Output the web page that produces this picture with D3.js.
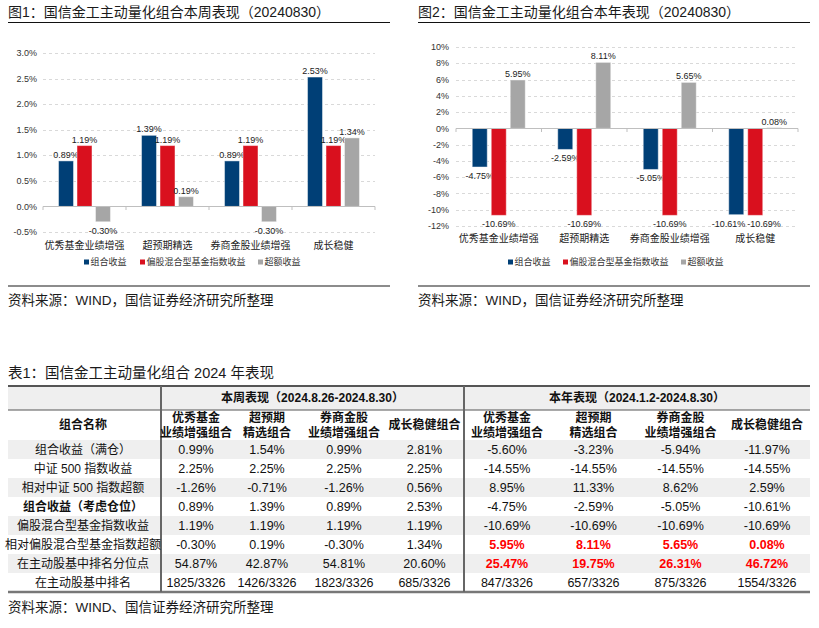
<!DOCTYPE html>
<html><head><meta charset="utf-8">
<script src="https://cdn.jsdelivr.net/npm/d3@7"></script>
<style>
body{margin:0;background:#fff;}
svg{display:block;font-family:"Liberation Sans","Noto Sans CJK SC",sans-serif;}
</style></head>
<body>
<svg id="c" width="819" height="628"></svg>
<script>
// ---------- data ----------
const categories = ["优秀基金业绩增强","超预期精选","券商金股业绩增强","成长稳健"];
const seriesNames = ["组合收益","偏股混合型基金指数收益","超额收益"];
const weekPortfolio = [0.89,1.39,0.89,2.53];
const weekIndex = [1.19,1.19,1.19,1.19];
const weekExcess = [-0.30,0.19,-0.30,1.34];
const yearPortfolio = [-4.75,-2.59,-5.05,-10.61];
const yearIndex = [-10.69,-10.69,-10.69,-10.69];
const yearExcess = [5.95,8.11,5.65,0.08];
const weekTicks = [-0.5,0,0.5,1.0,1.5,2.0,2.5,3.0];
const yearTicks = [-12,-10,-8,-6,-4,-2,0,2,4,6,8,10];

const tableTitle = "表1：国信金工主动量化组合 2024 年表现";
const groupHeaders = ["本周表现（2024.8.26-2024.8.30）","本年表现（2024.1.2-2024.8.30）"];
const colHeaders = [["优秀基金","业绩增强组合"],["超预期","精选组合"],["券商金股","业绩增强组合"],["成长稳健组合"]];
const rowLabels = ["组合收益（满仓）","中证 500 指数收益","相对中证 500 指数超额","组合收益（考虑仓位）","偏股混合型基金指数收益","相对偏股混合型基金指数超额","在主动股基中排名分位点","在主动股基中排名"];
const weekTable = [
  ["0.99%","1.54%","0.99%","2.81%"],
  ["2.25%","2.25%","2.25%","2.25%"],
  ["-1.26%","-0.71%","-1.26%","0.56%"],
  ["0.89%","1.39%","0.89%","2.53%"],
  ["1.19%","1.19%","1.19%","1.19%"],
  ["-0.30%","0.19%","-0.30%","1.34%"],
  ["54.87%","42.87%","54.81%","20.60%"],
  ["1825/3326","1426/3326","1823/3326","685/3326"]
];
const yearTable = [
  ["-5.60%","-3.23%","-5.94%","-11.97%"],
  ["-14.55%","-14.55%","-14.55%","-14.55%"],
  ["8.95%","11.33%","8.62%","2.59%"],
  ["-4.75%","-2.59%","-5.05%","-10.61%"],
  ["-10.69%","-10.69%","-10.69%","-10.69%"],
  ["5.95%","8.11%","5.65%","0.08%"],
  ["25.47%","19.75%","26.31%","46.72%"],
  ["847/3326","657/3326","875/3326","1554/3326"]
];
const boldRows = [3];
const redYearRows = [5,6];

// ---------- styles ----------
const colors = ["#003f76","#d9101e","#a6a6a6"];
const svg = d3.select("#c");

function drawChart(opt){
  const g = svg.append("g");
  g.append("text").attr("x",opt.x0).attr("y",17).attr("font-size",14).attr("fill","#1a1a1a").text(opt.title);
  g.append("line").attr("x1",opt.x0).attr("x2",opt.x1).attr("y1",22.5).attr("y2",22.5).attr("stroke","#111").attr("stroke-width",1.2);
  const y = d3.scaleLinear().domain(opt.domain).range(opt.yrange);
  const x = d3.scaleBand().domain(categories).range(opt.xrange);
  const x1 = d3.scaleBand().domain(seriesNames).range([0,x.bandwidth()]).paddingInner(opt.pi).paddingOuter(opt.po);
  g.selectAll(".grid").data(opt.ticks.filter(t=>t!==0)).join("line")
    .attr("x1",opt.xrange[0]).attr("x2",opt.xrange[1])
    .attr("y1",d=>Math.round(y(d))+0.5).attr("y2",d=>Math.round(y(d))+0.5)
    .attr("stroke","#d9d9d9").attr("stroke-dasharray","3,3");
  g.selectAll(".tl").data(opt.ticks).join("text")
    .attr("x",opt.tickX).attr("y",d=>y(d)).attr("dy","0.35em").attr("text-anchor","end")
    .attr("font-size",9).attr("fill","#333").text(opt.fmt);
  const series = opt.series;
  categories.forEach((c,i)=>{
    // detect colliding negative labels of first two series (both negative, nearly equal)
    const a = series[0][i], b = series[1][i];
    const clash = a<0 && b<0 && Math.abs(y(a)-y(b))<10;
    series.forEach((s,j)=>{
      const v = s[i];
      const bx = x(c)+x1(seriesNames[j]);
      g.append("rect").attr("x",bx).attr("width",x1.bandwidth())
        .attr("y",y(Math.max(0,v))).attr("height",Math.abs(y(v)-y(0)))
        .attr("fill",colors[j]).attr("stroke","#ffffff").attr("stroke-opacity",0.45).attr("stroke-width",1);
      let anchor="middle", lx=bx+x1.bandwidth()/2;
      if(clash && j===0){ anchor="end"; lx=bx+x1.bandwidth()/2+9; }
      if(clash && j===1){ anchor="start"; lx=bx+x1.bandwidth()/2-8; }
      g.append("text").attr("x",lx)
        .attr("y", v>=0 ? y(v)-3 : y(v)+opt.negOff)
        .attr("text-anchor",anchor).attr("font-size",9).attr("fill","#222")
        .text(v.toFixed(2)+"%");
    });
  });
  g.append("line").attr("x1",opt.xrange[0]).attr("x2",opt.xrange[1]).attr("y1",Math.round(y(0))+0.5).attr("y2",Math.round(y(0))+0.5).attr("stroke","#bfbfbf");
  const edges = categories.map(c=>x(c)).concat([opt.xrange[1]]);
  g.selectAll(".tk").data(edges).join("line").attr("x1",d=>d).attr("x2",d=>d)
    .attr("y1",Math.round(y(0))+0.5).attr("y2",Math.round(y(0))+4).attr("stroke","#bfbfbf");
  g.selectAll(".cl").data(categories).join("text")
    .attr("x",d=>x(d)+x.bandwidth()/2).attr("y",opt.catY).attr("dy","0.35em").attr("text-anchor","middle")
    .attr("font-size",10).attr("fill","#222").text(d=>d);
  seriesNames.forEach((s,j)=>{
    g.append("rect").attr("x",opt.legX[j]).attr("y",259.5).attr("width",5).attr("height",5).attr("fill",colors[j]);
    g.append("text").attr("x",opt.legX[j]+6.5).attr("y",262).attr("dy","0.35em").attr("font-size",9).attr("fill","#333").text(s);
  });
  g.append("line").attr("x1",opt.x0).attr("x2",opt.x1).attr("y1",286).attr("y2",286).attr("stroke","#8c8c8c").attr("stroke-width",2);
  g.append("text").attr("x",opt.x0).attr("y",300).attr("dy","0.35em").attr("font-size",13.5).attr("fill","#1a1a1a").text("资料来源：WIND，国信证券经济研究所整理");
}

drawChart({title:"图1：国信金工主动量化组合本周表现（20240830）",x0:8,x1:390,
  domain:[-0.5,3.0],yrange:[232,53],xrange:[43,375],pi:0.19,po:0.84,
  ticks:weekTicks,tickX:37,fmt:d=>d.toFixed(1)+"%",
  series:[weekPortfolio,weekIndex,weekExcess],negOff:12,
  catY:245,legX:[84,140,258]});
drawChart({title:"图2：国信金工主动量化组合本年表现（20240830）",x0:418,x1:810,
  domain:[-12,10],yrange:[226,47],xrange:[456,798],pi:0.21,po:0.855,
  ticks:yearTicks,tickX:449,fmt:d=>d+"%",
  series:[yearPortfolio,yearIndex,yearExcess],negOff:12,
  catY:238,legX:[508,563,681]});

// ---------- table ----------
const T = svg.append("g");
T.append("text").attr("x",8).attr("y",378).attr("font-size",14.5).attr("fill","#1a1a1a").text(tableTitle);
const tLeft=8,tRight=810,tTop=386,tH1=410,tH2=440,tBottom=592;
const colEdges=[161,231,303,385,464,550,637,724,810];
const rowH=(tBottom-tH2)/rowLabels.length;
T.append("rect").attr("x",tLeft).attr("y",tTop).attr("width",tRight-tLeft).attr("height",tH1-tTop).attr("fill","#efefef");
rowLabels.forEach((r,i)=>{
  if(i%2===0) T.append("rect").attr("x",tLeft).attr("y",tH2+i*rowH).attr("width",tRight-tLeft).attr("height",rowH).attr("fill","#efefef");
});
T.append("line").attr("x1",tLeft).attr("x2",tRight).attr("y1",tTop).attr("y2",tTop).attr("stroke","#555").attr("stroke-width",2);
T.append("line").attr("x1",tLeft).attr("x2",tRight).attr("y1",tH1).attr("y2",tH1).attr("stroke","#555").attr("stroke-width",1);
T.append("line").attr("x1",tLeft).attr("x2",tRight).attr("y1",tBottom).attr("y2",tBottom).attr("stroke","#777").attr("stroke-width",2.5);
[161,464].forEach(xv=>T.append("line").attr("x1",xv).attr("x2",xv).attr("y1",tTop).attr("y2",tBottom).attr("stroke","#666").attr("stroke-width",2));
T.append("text").attr("x",(161+464)/2).attr("y",(tTop+tH1)/2).attr("dy","0.35em").attr("text-anchor","middle").attr("font-size",12).attr("font-weight","bold").attr("fill","#111").text(groupHeaders[0]);
T.append("text").attr("x",(464+810)/2).attr("y",(tTop+tH1)/2).attr("dy","0.35em").attr("text-anchor","middle").attr("font-size",12).attr("font-weight","bold").attr("fill","#111").text(groupHeaders[1]);
T.append("text").attr("x",83).attr("y",(tH1+tH2)/2).attr("dy","0.35em").attr("text-anchor","middle").attr("font-size",12).attr("font-weight","bold").attr("fill","#111").text("组合名称");
for(let k=0;k<8;k++){
  const cx=(colEdges[k]+colEdges[k+1])/2;
  const hd=colHeaders[k%4];
  const t=T.append("text").attr("text-anchor","middle").attr("font-size",12).attr("font-weight","bold").attr("fill","#111");
  if(hd.length===1){ t.append("tspan").attr("x",cx).attr("y",(tH1+tH2)/2).attr("dy","0.35em").text(hd[0]); }
  else { t.append("tspan").attr("x",cx).attr("y",(tH1+tH2)/2-7.5).attr("dy","0.35em").text(hd[0]);
         t.append("tspan").attr("x",cx).attr("y",(tH1+tH2)/2+7.5).attr("dy","0.35em").text(hd[1]); }
}
rowLabels.forEach((r,i)=>{
  const cy=tH2+i*rowH+rowH/2;
  const bold=boldRows.includes(i);
  T.append("text").attr("x",83).attr("y",cy).attr("dy","0.35em").attr("text-anchor","middle").attr("font-size",12)
    .attr("font-weight",bold?"bold":"normal").attr("fill","#111").text(r);
  const vals=weekTable[i].concat(yearTable[i]);
  vals.forEach((v,k)=>{
    const cx=(colEdges[k]+colEdges[k+1])/2;
    const red=k>=4 && redYearRows.includes(i);
    T.append("text").attr("x",cx).attr("y",cy).attr("dy","0.35em").attr("text-anchor","middle").attr("font-size",12.5)
      .attr("font-weight",red?"bold":"normal").attr("fill",red?"#ff0000":"#111").text(v);
  });
});
T.append("text").attr("x",8).attr("y",607).attr("dy","0.35em").attr("font-size",13.5).attr("fill","#1a1a1a").text("资料来源：WIND、国信证券经济研究所整理");
</script>
</body></html>
